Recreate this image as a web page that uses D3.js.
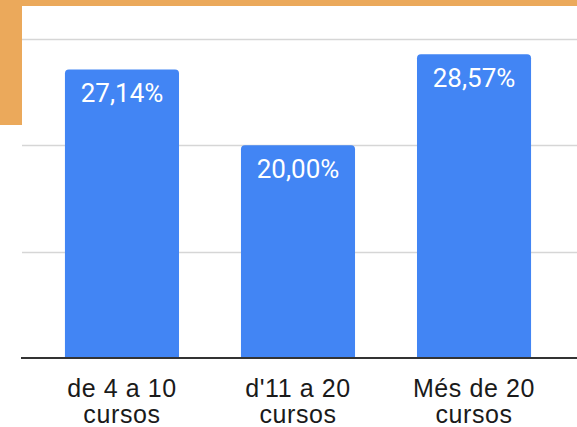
<!DOCTYPE html>
<html><head><meta charset="utf-8">
<script src="https://cdn.jsdelivr.net/npm/d3@7"></script>
<style>html,body{margin:0;padding:0;background:#fff;overflow:hidden}</style>
</head><body>
<svg id="c" width="577" height="427"></svg>
<script>
const categories = [["de 4 a 10","cursos"],["d'11 a 20","cursos"],["Més de 20","cursos"]];
const values = [27.14, 20.00, 28.57];
const valueLabels = ["27,14%","20,00%","28,57%"];
const yTicks = [0, 10, 20, 30];

const svg = d3.select("#c");
const W = 577, H = 427;
const x = d3.scaleBand().domain(d3.range(categories.length)).range([22, 574]).paddingInner(0.352).paddingOuter(0.244);
const y = d3.scaleLinear().domain([0, 30]).range([358, 39]);

svg.append("rect").attr("width", W).attr("height", H).attr("fill", "#fff");

// gridlines
svg.append("g").selectAll("line").data(yTicks.filter(d => d > 0)).join("line")
  .attr("x1", 22).attr("x2", W)
  .attr("y1", d => Math.round(y(d)) + 0.5).attr("y2", d => Math.round(y(d)) + 0.5)
  .attr("stroke", "#d6d6d6").attr("stroke-width", 1.5);

// bars with rounded top corners
const r = 4;
svg.append("g").selectAll("path").data(values).join("path")
  .attr("d", (d, i) => {
    const x0 = x(i), x1 = x(i) + x.bandwidth(), t = y(d), b = y(0);
    return `M${x0},${b}V${t + r}Q${x0},${t} ${x0 + r},${t}H${x1 - r}Q${x1},${t} ${x1},${t + r}V${b}Z`;
  })
  .attr("fill", "#4285f4");

// value labels
svg.append("g").selectAll("text").data(values).join("text")
  .attr("x", (d, i) => x(i) + x.bandwidth() / 2)
  .attr("y", d => y(d) + 33)
  .attr("text-anchor", "middle")
  .attr("font-family", "Roboto, 'Noto Sans', sans-serif")
  .attr("font-size", 26)
  .attr("fill", "#fff")
  .text((d, i) => valueLabels[i]);

// baseline
svg.append("line").attr("x1", 21).attr("x2", W)
  .attr("y1", y(0)).attr("y2", y(0))
  .attr("stroke", "#333").attr("stroke-width", 2);

// category labels
const xl = svg.append("g").selectAll("text").data(categories).join("text")
  .attr("x", (d, i) => x(i) + x.bandwidth() / 2)
  .attr("text-anchor", "middle")
  .attr("font-family", "'Liberation Sans', Arial, sans-serif")
  .attr("font-size", 25)
  .attr("letter-spacing", 0.6)
  .attr("fill", "#1a1a1a");
xl.selectAll("tspan").data(d => d).join("tspan")
  .attr("x", function() { return this.parentNode.getAttribute("x"); })
  .attr("y", (d, j) => 397 + j * 26)
  .text(d => d);

// orange decorations
svg.append("rect").attr("x", 0).attr("y", 0).attr("width", W).attr("height", 6).attr("fill", "#eba95b");
svg.append("rect").attr("x", 0).attr("y", 0).attr("width", 22).attr("height", 125).attr("fill", "#eba95b");
</script>
</body></html>
